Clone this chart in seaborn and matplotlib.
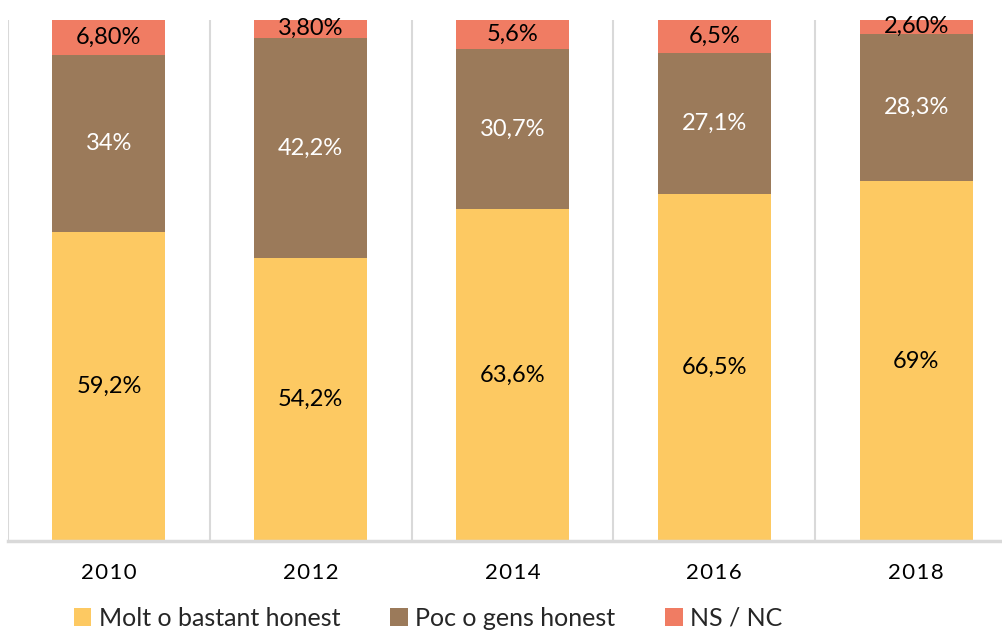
"""Stacked bar chart: honesty perception by year."""

import matplotlib.pyplot as plt
import numpy as np
import pandas as pd
import seaborn as sns
from matplotlib.patches import Patch

years = ["2010", "2012", "2014", "2016", "2018"]
molt = [59.2, 54.2, 63.6, 66.5, 69.0]
poc = [34.0, 42.2, 30.7, 27.1, 28.3]
nsnc = [6.8, 3.8, 5.6, 6.5, 2.6]

molt_labels = ["59,2%", "54,2%", "63,6%", "66,5%", "69%"]
poc_labels = ["34%", "42,2%", "30,7%", "27,1%", "28,3%"]
nsnc_labels = ["6,80%", "3,80%", "5,6%", "6,5%", "2,60%"]

series_names = ["Molt o bastant honest", "Poc o gens honest", "NS / NC"]
colors = ["#FDC962", "#9B7A5A", "#F07C63"]

sns.set_theme(style="white")
plt.rcParams["font.family"] = ["Lato", "DejaVu Sans"]

df = pd.DataFrame({"year": years, "molt": molt, "poc": poc, "nsnc": nsnc})
df["top_poc"] = df["molt"] + df["poc"]
df["top_ns"] = df["top_poc"] + df["nsnc"]

fig = plt.figure(figsize=(10.03, 6.31), dpi=100)
ax = fig.add_axes([8 / 1003, 90 / 631, 1009 / 1003, 521.5 / 631])

# draw layers from the top down so each covers the lower part of the previous
for col, color in zip(["top_ns", "top_poc", "molt"], colors[::-1]):
    sns.barplot(data=df, x="year", y=col, color=color, width=0.56,
                saturation=1, ax=ax, linewidth=0)

x = np.arange(len(years))
for i in x:
    ax.text(i, molt[i] / 2, molt_labels[i], ha="center", va="center",
            fontsize=17, color="black")
    ax.text(i, molt[i] + poc[i] / 2, poc_labels[i], ha="center", va="center",
            fontsize=17, color="white")
    ax.text(i, molt[i] + poc[i] + nsnc[i] / 2, nsnc_labels[i], ha="center",
            va="center", fontsize=17, color="black")

ax.set_ylim(0, 100)
ax.set_xlim(-0.5, len(years) - 0.5)
ax.set_yticks([])
ax.set_xlabel("")
ax.set_ylabel("")
ax.set_xticks(x)
ax.set_xticklabels(["\u200a".join(y) for y in years])
for b in np.arange(-0.5, len(years), 1.0):
    ax.axvline(b, color="#D9D9D9", linewidth=1.5, zorder=0)
for side in ["top", "right", "left"]:
    ax.spines[side].set_visible(False)
ax.spines["bottom"].set_color("#D9D9D9")
ax.spines["bottom"].set_linewidth(2.5)
ax.tick_params(axis="x", length=0, pad=16, labelsize=16, labelcolor="black")

handles = [Patch(facecolor=c, edgecolor="none") for c in colors]
fig.legend(handles, series_names, loc="center", bbox_to_anchor=(428 / 1003, 1 - 618 / 631),
           ncol=3, frameon=False, fontsize=18, handlelength=0.7, handleheight=0.7,
           handletextpad=0.3, columnspacing=2.0)

fig.savefig("out.png", dpi=100)
